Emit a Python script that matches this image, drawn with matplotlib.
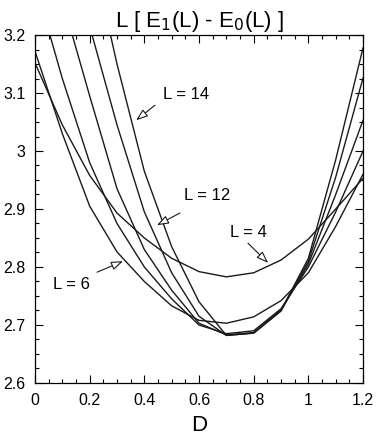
import matplotlib
matplotlib.use('Agg')
import matplotlib.pyplot as plt
from matplotlib.ticker import MultipleLocator, FuncFormatter

plt.rcParams['font.family'] = ['Liberation Sans', 'DejaVu Sans']

# coupling D (grid of the calculation)
D = [0.0, 0.1, 0.2, 0.3, 0.4, 0.5, 0.6, 0.7, 0.8, 0.9, 1.0, 1.1, 1.2]

# scaled gap L*[E1(L) - E0(L)] for each chain length
gap_L4 = [3.152, 3.045, 2.958, 2.893, 2.85, 2.815, 2.792, 2.783, 2.79, 2.812, 2.848, 2.90, 2.953]
gap_L6 = [3.172, 3.03, 2.905, 2.826, 2.775, 2.733, 2.708, 2.703, 2.714, 2.742, 2.79, 2.87, 2.96]
gap_L8 = [3.29, 3.125, 2.98, 2.875, 2.80, 2.745, 2.70, 2.685, 2.69, 2.728, 2.80, 2.895, 3.00]
gap_L10 = [3.43, 3.26, 3.095, 2.935, 2.83, 2.76, 2.703, 2.683, 2.687, 2.726, 2.805, 2.925, 3.053]
gap_L12 = [3.56, 3.39, 3.215, 3.045, 2.895, 2.79, 2.715, 2.682, 2.686, 2.724, 2.81, 2.955, 3.126]
gap_L14 = [3.70, 3.53, 3.36, 3.15, 2.965, 2.835, 2.74, 2.682, 2.686, 2.725, 2.815, 2.985, 3.178]

curves = [gap_L4, gap_L6, gap_L8, gap_L10, gap_L12, gap_L14]

# labels: (text, text position, arrow tail, arrow tip)
labels = [
    ('L = 14', (0.468, 3.097), (0.439, 3.079), (0.370, 3.053)),
    ('L = 12', (0.545, 2.924), (0.530, 2.893), (0.446, 2.872)),
    ('L = 6', (0.066, 2.769), (0.227, 2.791), (0.322, 2.810)),
    ('L = 4', (0.713, 2.860), (0.779, 2.841), (0.853, 2.807)),
]

fig = plt.figure(figsize=(3.77, 4.46), dpi=100)
ax = fig.add_axes([0.0928, 0.1413, 0.8702, 0.7802])

for y in curves:
    ax.plot(D, y, color='#1a1a1a', lw=1.0)

for txt, pos, tail, tip in labels:
    ax.text(pos[0], pos[1], txt, fontsize=12, ha='left', va='center')
    ax.annotate('', xy=tip, xytext=tail,
                arrowprops=dict(arrowstyle='-|>,head_length=0.55,head_width=0.2',
                                fc='white', ec='#1a1a1a', lw=0.8,
                                mutation_scale=13, shrinkA=0, shrinkB=0))

ax.set_xlim(0, 1.2)
ax.set_ylim(2.6, 3.2)
ax.xaxis.set_major_locator(MultipleLocator(0.2))
ax.xaxis.set_minor_locator(MultipleLocator(0.05))
ax.yaxis.set_major_locator(MultipleLocator(0.1))
ax.yaxis.set_minor_locator(MultipleLocator(0.025))
fmt = FuncFormatter(lambda v, p: '%g' % round(v, 3))
ax.xaxis.set_major_formatter(fmt)
ax.yaxis.set_major_formatter(fmt)
ax.tick_params(which='both', direction='in', top=True, right=True, labelsize=11.5, width=0.8)
ax.tick_params(which='major', length=6, pad=7)
ax.tick_params(which='minor', length=3)
for s in ax.spines.values():
    s.set_linewidth(0.9)

ax.set_xlabel('D', fontsize=16, labelpad=5)
ax.set_title('L [ E$_1$(L) - E$_0$(L) ]', fontsize=16, pad=6)

fig.savefig('out.png', dpi=100)
